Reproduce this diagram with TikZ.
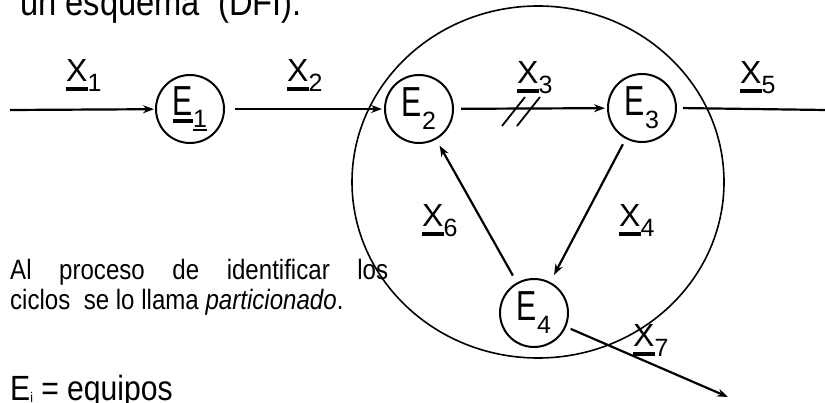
\documentclass[tikz,border=0pt]{standalone}
\usepackage{fontspec}
\setmainfont[FakeStretch=0.86]{Liberation Sans}
\newfontfamily\lblfont{Liberation Sans}
\newfontfamily\tallfont[FakeStretch=0.72]{Liberation Sans}
\usetikzlibrary{arrows.meta,calc}
% \ubar{depth}{thickness}{text}
\newcommand\ubar[3]{\setbox0\hbox{#3}\rlap{\rule[-#1]{\wd0}{#2}}\box0}
\newcommand\subdig[2]{\raisebox{-#1}{\lblfont\fontsize{25}{25}\selectfont #2}}
\newcommand\xlab[1]{{\lblfont\ubar{9pt}{4pt}{X}}\subdig{10pt}{#1}}
\newcommand\elab[1]{{\tallfont E}\subdig{13pt}{#1}}
\tikzset{
  eq/.style={circle,draw,line width=2pt,minimum size=68pt,inner sep=0pt,font=\fontsize{42}{42}\selectfont},
  lab/.style={anchor=base west,inner sep=0pt,font=\fontsize{32}{32}\selectfont},
  flow/.style={line width=2.2pt,-{Stealth[length=11pt,width=8pt]}},
  plain/.style={line width=2.2pt},
}
\begin{document}
\begin{tikzpicture}[x=1pt,y=-1pt]
\useasboundingbox (0,0) rectangle (825,403);
\clip (0,0) rectangle (825,403);
% big cycle ellipse
\draw[line width=1.6pt] (538,182) ellipse [x radius=186,y radius=176];
% equipment
\node[eq] (E1) at (190,109) {{\tallfont\ubar{8pt}{4pt}{E}}\raisebox{-12pt}{\lblfont\fontsize{25}{25}\selectfont\ubar{4pt}{2.5pt}{1}}};
\node[eq] (E2) at (419,109) {\elab{2}};
\node[eq] (E3) at (642,108) {\elab{3}};
\node[eq] (E4) at (534,313) {\elab{4}};
\coordinate (in) at (10,110);
\coordinate (out5) at (826,110);
\coordinate (out7) at (728,397);
% connectors
\draw[flow,shorten >=1pt] (in) -- (E1);
\draw[flow,shorten <=10pt,shorten >=2pt] (E1) -- (E2);
\draw[flow,shorten <=7pt,shorten >=2pt] (E2) -- (E3);
\draw[plain,shorten <=6pt] (E3.east) -- (out5);
\draw[flow,shorten <=6pt,shorten >=8pt] (E3) -- (E4);
\draw[flow,shorten <=8pt,shorten >=7pt] (E4) -- (E2);
\draw[flow,shorten <=5pt] (E4) -- (out7);
% double slash
\draw[line width=1.8pt] (502,126) -- (525,97);
\draw[line width=1.8pt] (517,126) -- (540,97);
% labels
\node[lab] (x1) at (66,82) {\xlab{1}};
\node[lab] (x2) at (287,82) {\xlab{2}};
\node[lab] (x3) at (517,84) {\xlab{3}};
\node[lab] (x5) at (740,84) {\xlab{5}};
\node[lab] (x6) at (422,227) {\xlab{6}};
\node[lab] (x4) at (619,227) {\xlab{4}};
\node[lab] (x7) at (633,347) {\xlab{7}};
% texts
\node[anchor=base west,inner sep=0pt,font=\fontsize{38}{38}\selectfont] (title) at (20,16) {un esquema~~(DFI):};
\node[anchor=north west,inner sep=0pt,text width=378pt,align=justify,font=\fontsize{28}{30}\selectfont] (note) at (10,259) {Al proceso de identificar los\linebreak ciclos~ se lo llama \textit{particionado}.};
\node[anchor=base west,inner sep=0pt,font=\fontsize{35}{35}\selectfont] (legend) at (10,400) {E\raisebox{-2pt}{\fontsize{14}{14}\selectfont i} = equipos};
\end{tikzpicture}
\end{document}
